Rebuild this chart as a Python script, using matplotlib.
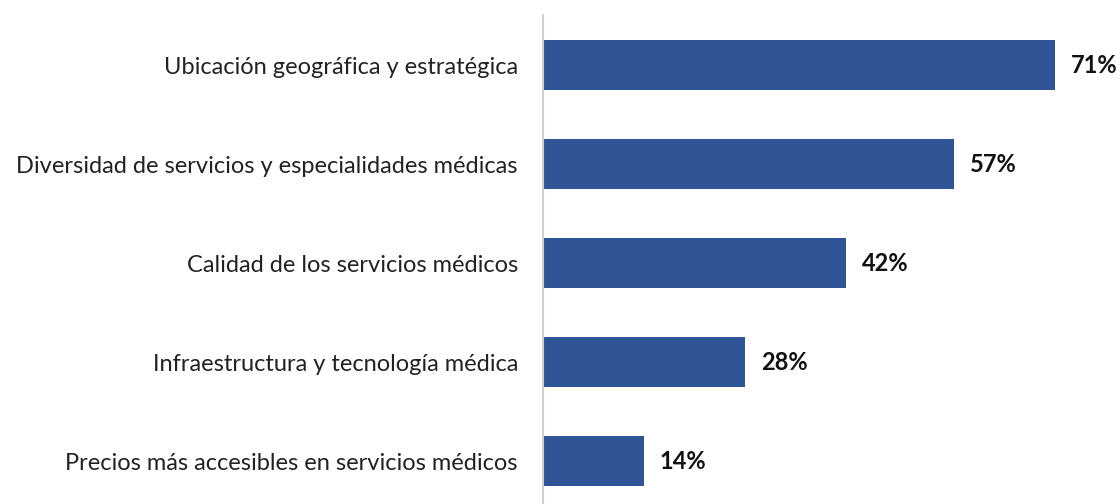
import matplotlib
matplotlib.use("Agg")
import matplotlib.pyplot as plt

categories = [
    "Ubicación geográfica y estratégica",
    "Diversidad de servicios y especialidades médicas",
    "Calidad de los servicios médicos",
    "Infraestructura y tecnología médica",
    "Precios más accesibles en servicios médicos",
]
values = [71, 57, 42, 28, 14]

plt.rcParams["font.family"] = ["Lato", "DejaVu Sans"]

fig = plt.figure(figsize=(11.2, 5.04), dpi=100)
ax = fig.add_axes([0.4848, 0.0, 0.515, 0.970])

y = list(range(len(categories)))
ax.barh(y, values, height=0.5, color="#2F5597")

for yi, v in zip(y, values):
    ax.text(v + 2.2, yi, f"{v}%", va="center", ha="left",
            fontsize=17, fontweight="bold", color="#111111")

ax.set_yticks(y)
ax.set_yticklabels(categories, fontsize=17, color="#222222")
ax.tick_params(axis="y", length=0, pad=18)
ax.set_xticks([])
ax.set_xlim(0, 80)
ax.set_ylim(4.434, -0.505)

for s in ["top", "right", "bottom"]:
    ax.spines[s].set_visible(False)
ax.spines["left"].set_color("#d0d0d0")
ax.spines["left"].set_linewidth(1.5)

fig.savefig("out.png", dpi=100)
